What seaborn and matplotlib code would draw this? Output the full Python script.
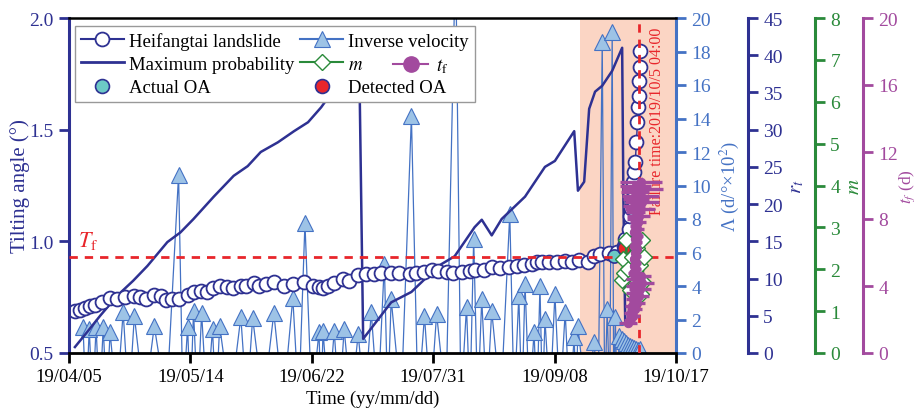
import numpy as np
import pandas as pd
import matplotlib
matplotlib.use("Agg")
import matplotlib.pyplot as plt
import matplotlib.dates as mdates
from matplotlib.lines import Line2D
import seaborn as sns

# =====================================================
# DATA (days after 2019-04-05)
# =====================================================

START = pd.Timestamp("2019-04-05")
END = pd.Timestamp("2019-10-17")
FAILURE = pd.Timestamp("2019-10-05 04:00")
WINDOW_START = pd.Timestamp("2019-09-16 05:00")
TF_THRESHOLD = 0.93

tick_dates = ["2019-04-05", "2019-05-14", "2019-06-22",
              "2019-07-31", "2019-09-08", "2019-10-17"]

# tilting angle (deg)
tilt_days = [1.9, 3.5, 5.2, 6.8, 8.4, 10.6, 13.2, 15.5, 18.1, 21.0,
             22.9, 24.8, 27.4, 29.4, 31.3, 33.2, 35.2, 38.1, 40.0, 42.3,
             44.2, 46.1, 48.4, 50.6, 52.6, 55.2, 56.8, 59.4, 61.0, 63.2,
             65.8, 69.0, 71.9, 75.5, 78.4, 80.3, 81.6, 83.2, 85.2, 88.1,
             90.0, 92.9, 95.5, 98.1, 100.3, 103.5, 106.1, 109.4, 111.6, 113.9,
             116.5, 118.7, 121.3, 123.5, 126.1, 128.7, 130.3, 133.2, 135.8, 138.4,
             141.3, 143.9, 146.1, 148.7, 150.3, 151.9, 154.2, 156.8, 159.4, 161.6,
             163.9, 166.8, 168.7, 170.6, 173.5, 176.1, 178.4, 178.7, 180.0, 180.3,
             180.7, 181.0, 181.3, 181.6, 181.9, 182.3, 182.6, 182.9, 183.0, 183.2,
             183.3, 183.5]
tilt_vals = [0.688, 0.693, 0.702, 0.710, 0.715, 0.728, 0.746, 0.742, 0.751, 0.755,
             0.751, 0.742, 0.760, 0.755, 0.737, 0.740, 0.742, 0.760, 0.773, 0.778,
             0.773, 0.791, 0.800, 0.796, 0.791, 0.800, 0.800, 0.813, 0.800, 0.809,
             0.818, 0.800, 0.809, 0.818, 0.800, 0.796, 0.791, 0.800, 0.813, 0.831,
             0.822, 0.849, 0.854, 0.854, 0.858, 0.858, 0.858, 0.854, 0.858, 0.863,
             0.872, 0.867, 0.863, 0.858, 0.863, 0.867, 0.872, 0.872, 0.885, 0.881,
             0.885, 0.890, 0.894, 0.899, 0.907, 0.907, 0.907, 0.907, 0.912, 0.907,
             0.916, 0.907, 0.934, 0.943, 0.948, 0.952, 0.979, 1.011, 1.055, 1.113,
             1.150, 1.190, 1.266, 1.311, 1.355, 1.445, 1.534, 1.602, 1.651, 1.718,
             1.781, 1.852]

# inverse velocity (d/deg x 10^2); negative values fall below the axis
inv_days = [4.5, 5.5, 6.5, 7.6, 8.7, 9.8, 11.0, 12.1, 13.2, 15.3,
            17.4, 19.2, 21.0, 24.2, 27.4, 31.3, 35.2, 36.6, 38.1, 39.0,
            40.0, 41.3, 42.6, 44.3, 46.1, 47.2, 48.4, 51.8, 55.2, 57.1,
            59.0, 62.4, 65.8, 68.8, 71.9, 73.8, 75.8, 78.0, 80.3, 81.0,
            81.6, 83.4, 85.2, 86.8, 88.4, 90.6, 92.9, 95.0, 97.1, 99.2,
            101.3, 102.4, 103.5, 106.7, 110.0, 112.1, 114.2, 116.1, 118.1, 121.1,
            124.2, 125.9, 127.7, 128.8, 130.0, 131.3, 132.6, 134.2, 135.8, 138.7,
            141.6, 143.0, 144.5, 145.5, 146.5, 147.9, 149.4, 150.3, 151.3, 152.1,
            152.9, 154.5, 156.1, 157.7, 159.4, 160.8, 162.3, 162.9, 163.5, 166.1,
            168.7, 170.0, 171.3, 172.1, 172.9, 173.7, 174.5, 175.0, 175.5, 176.1,
            176.8, 177.7, 178.4, 179.0, 179.7, 180.3, 181.0, 181.6, 182.3, 182.9,
            183.5]
inv_vals = [1.55, -3, 1.43, -3, 1.55, -3, 1.55, -3, 1.25, -3,
            2.45, -3, 2.21, -3, 1.61, -3, 10.63, -3, 1.55, -3,
            2.51, -3, 2.39, -3, 1.43, -3, 1.61, -3, 2.15, -3,
            2.09, -3, 2.39, -3, 3.28, -3, 7.76, -3, 1.25, -3,
            1.31, -3, 1.31, -3, 1.43, -3, 1.13, -3, 2.45, -3,
            5.31, -3, 3.22, -3, 14.15, -3, 2.21, -3, 2.33, -3,
            24.0, -3, 2.75, -3, 6.81, -3, 3.22, -3, 2.51, -3,
            8.30, -3, 3.40, -3, 4.12, -3, 1.25, -3, 4.00, -3,
            2.03, -3, 3.52, -3, 2.45, -3, 0.96, -3, 1.61, -3,
            0.66, -3, 18.57, -3, 2.63, -3, 19.16, -3, 2.15, -3,
            1.01, 0.84, 0.72, 0.60, 0.48, 0.42, 0.36, 0.30, 0.24, 0.18,
            0.24]

# maximum probability r_t
rt_days = [1.9, 5.8, 10.0, 15.5, 20.6, 25.2, 31.6, 35.8, 40.0, 46.5,
           52.9, 57.4, 61.6, 67.1, 72.3, 76.8, 81.0, 87.0, 93.2, 94.5,
           103.5, 110.0, 118.7, 123.9, 130.3, 132.6, 135.8, 139.0, 146.5, 152.9,
           156.1, 162.3, 163.5, 165.5, 167.1, 169.0, 171.3, 174.5, 177.7, 178.1,
           178.7]
rt_vals = [0.8, 2.8, 5.0, 7.7, 9.7, 11.7, 14.9, 16.2, 18.0, 21.0,
           23.8, 25.1, 27.0, 28.3, 29.8, 31.0, 33.0, 36.5, 40.5, 1.9,
           6.8, 8.2, 11.7, 13.0, 16.9, 17.9, 15.8, 18.0, 21.0, 25.0,
           25.8, 29.8, 21.8, 23.0, 32.8, 35.1, 35.9, 37.9, 41.0, 20.7,
           3.9]

# m
m_days = [177.6, 178.0, 178.4, 179.0, 179.6, 180.3, 181.0, 181.7, 182.4, 183.0,
          183.5, 183.9, 184.2, 184.5, 184.7]
m_vals = [1.75, 2.25, 1.90, 2.70, 2.00, 1.50, 2.30, 1.80, 2.50, 1.60,
          2.10, 1.40, 2.70, 1.70, 2.30]

# t_f (d) with horizontal spread (half width, days)
tf_vals = [10.2, 10.0, 9.8, 9.6, 9.4, 9.2, 9.0, 8.8, 8.6, 8.4,
           8.2, 8.0, 7.8, 7.6, 7.4, 7.2, 7.0, 6.8, 6.6, 6.4,
           6.2, 6.0, 5.8, 5.6, 5.4, 5.2, 5.0, 4.8, 4.6, 4.4,
           4.2, 4.0, 3.8, 3.6, 3.4, 3.2, 3.0, 2.8, 2.6, 2.4,
           2.2, 2.0, 1.8]
tf_days = [183.8, 182.0, 184.3, 181.8, 183.6, 182.2, 184.0, 181.6, 183.4, 182.0,
           183.0, 181.7, 182.8, 181.9, 182.6, 181.6, 182.7, 181.8, 182.5, 181.5,
           182.4, 181.7, 182.3, 181.4, 182.2, 181.6, 182.1, 181.3, 183.6, 182.0,
           184.0, 181.8, 183.5, 181.6, 183.2, 181.2, 182.4, 180.8, 181.8, 180.4,
           181.2, 180.1, 179.6]
tf_halfwidth = [6.8, 5.0, 6.5, 4.6, 5.8, 4.2, 5.5, 3.5, 4.8, 3.0,
                3.6, 2.4, 2.6, 1.8, 2.0, 1.5, 1.6, 1.4, 1.5, 1.3,
                1.4, 1.3, 1.4, 1.3, 1.4, 1.3, 1.5, 1.6, 3.4, 3.2,
                4.0, 3.0, 3.6, 2.8, 3.2, 2.4, 2.6, 2.2, 2.4, 2.0,
                2.2, 1.8, 3.0]

# onset of acceleration
actual_oa_day, actual_oa_val = [175.2], [0.934]
detected_oa_day, detected_oa_val = [178.4], [0.970]

# =====================================================
# STYLE
# =====================================================

NAVY = "#2e3192"
BLUE = "#4472c4"
LIGHT_BLUE = "#9dc3e6"
GREEN = "#2a8a3a"
PURPLE = "#a24a9e"
RED = "#e8262b"
SHADE = "#fbd5c4"

plt.rcParams["font.family"] = ["Liberation Serif", "DejaVu Serif"]
plt.rcParams["mathtext.fontset"] = "stix"
plt.rcParams["font.size"] = 13.5


def to_dates(days):
    return START + pd.to_timedelta(np.asarray(days, dtype=float), unit="D")


# =====================================================
# AXES
# =====================================================

fig = plt.figure(figsize=(9.18, 4.14), dpi=100)
ax = fig.add_axes([69 / 918, 1 - 354 / 414, 607 / 918, 335 / 414])

ax_l = ax.twinx()
ax_r = ax.twinx()
ax_m = ax.twinx()
ax_t = ax.twinx()

ax_l.set_zorder(1)
ax_r.set_zorder(2)
ax.set_zorder(3)
ax_m.set_zorder(4)
ax_t.set_zorder(5)
ax.patch.set_visible(False)

# =====================================================
# SHADED WINDOW + INVERSE VELOCITY
# =====================================================

ax_l.axvspan(WINDOW_START, END, color=SHADE, lw=0, zorder=0)

sns.lineplot(x=to_dates(inv_days), y=inv_vals, ax=ax_l, color=BLUE, lw=0.9,
             marker="^", markersize=12, mfc=LIGHT_BLUE, mec=BLUE, mew=0.8,
             estimator=None, sort=False, legend=False)

# =====================================================
# MAXIMUM PROBABILITY
# =====================================================

sns.lineplot(x=to_dates(rt_days), y=rt_vals, ax=ax_r, color=NAVY, lw=1.8,
             estimator=None, sort=False, legend=False)

# =====================================================
# TILTING ANGLE
# =====================================================

sns.lineplot(x=to_dates(tilt_days), y=tilt_vals, ax=ax, color=NAVY, lw=1.0,
             marker="o", markersize=10, mfc="white", mec=NAVY, mew=1.3,
             estimator=None, sort=False, legend=False)

sns.scatterplot(x=to_dates(actual_oa_day), y=actual_oa_val, ax=ax, s=90,
                color="#6cc9c6", edgecolor=NAVY, linewidth=1.2, zorder=4)
sns.scatterplot(x=to_dates(detected_oa_day), y=detected_oa_val, ax=ax, s=90,
                color=RED, edgecolor=NAVY, linewidth=1.2, zorder=4)

ax.axhline(TF_THRESHOLD, color=RED, lw=2, dashes=(3, 2.5), zorder=5)
ax.axvline(FAILURE, color=RED, lw=2, dashes=(3, 2.5), zorder=5)

ax.text(START + pd.Timedelta(days=6.1), 1.006, r"$T_{\mathrm{f}}$",
        color=RED, fontsize=16, ha="center", va="center")
ax.text(FAILURE + pd.Timedelta(days=5.8), 0.973, "Failure time:2019/10/5 04:00",
        transform=ax.get_xaxis_transform(), rotation=90, color=RED,
        fontsize=11.5, ha="center", va="top")

# =====================================================
# m AND t_f
# =====================================================

sns.lineplot(x=to_dates(m_days), y=m_vals, ax=ax_m, color=GREEN, lw=1.0,
             marker="D", markersize=8, mfc="white", mec=GREEN, mew=1.0,
             estimator=None, sort=False, legend=False)

ax_t.hlines(tf_vals,
            to_dates(np.array(tf_days) - np.array(tf_halfwidth)),
            to_dates(np.array(tf_days) + np.array(tf_halfwidth)),
            colors=PURPLE, lw=2.4)
sns.lineplot(x=to_dates(tf_days), y=tf_vals, ax=ax_t, color=PURPLE, lw=5,
             marker="o", markersize=6, mfc=PURPLE, mec=PURPLE,
             estimator=None, sort=False, legend=False)

# =====================================================
# LIMITS, TICKS, SPINES
# =====================================================

ax.set_xlim(START, END)
ax.set_xticks(pd.to_datetime(tick_dates))
ax.xaxis.set_major_formatter(mdates.DateFormatter("%y/%m/%d"))

ax.set_ylim(0.5, 2.0)
ax.set_yticks([0.5, 1.0, 1.5, 2.0])
ax.yaxis.set_major_formatter(plt.FormatStrFormatter("%.1f"))
ax_l.set_ylim(0, 20)
ax_l.set_yticks(range(0, 21, 2))
ax_r.set_ylim(0, 45)
ax_r.set_yticks(range(0, 46, 5))
ax_m.set_ylim(0, 8)
ax_m.set_yticks(range(0, 9, 1))
ax_t.set_ylim(0, 20)
ax_t.set_yticks(range(0, 21, 4))

ax.tick_params(axis="x", colors="black", direction="out", length=7,
               width=2, labelsize=13.5, pad=4)
ax.tick_params(axis="y", colors=NAVY, direction="out", length=7,
               width=2, labelsize=14, pad=4)

ax.spines["left"].set_color(NAVY)
ax.spines["left"].set_linewidth(2.2)
ax.spines["bottom"].set_linewidth(2)
ax.spines["top"].set_linewidth(1.8)
ax.spines["right"].set_visible(False)

for twin, color, pos in [(ax_l, BLUE, 1.0), (ax_r, NAVY, 1.1186),
                         (ax_m, GREEN, 1.229), (ax_t, PURPLE, 1.308)]:
    for side in ["left", "top", "bottom"]:
        twin.spines[side].set_visible(False)
    twin.spines["right"].set_position(("axes", pos))
    twin.spines["right"].set_color(color)
    twin.spines["right"].set_linewidth(2.2)
    twin.tick_params(axis="y", colors=color, direction="out", length=7,
                     width=2, labelsize=14, pad=4)
    twin.set_xlabel("")

# =====================================================
# LABELS
# =====================================================

ax.set_xlabel("Time (yy/mm/dd)", fontsize=13.5, labelpad=3)
ax.set_ylabel("Tilting angle (°)", color=NAVY, fontsize=15)
ax.yaxis.set_label_coords(-0.064, 0.5)

ax_l.set_ylabel(r"Λ (d/°×10$^2$)", color=BLUE, fontsize=13.5)
ax_l.yaxis.set_label_coords(1.069, 0.5)
ax_r.set_ylabel(r"$r_t$", color=NAVY, fontsize=15)
ax_r.yaxis.set_label_coords(1.183, 0.5)
ax_m.set_ylabel(r"$m$", color=GREEN, fontsize=15)
ax_m.yaxis.set_label_coords(1.279, 0.5)
ax_t.set_ylabel(r"$t_f$ (d)", color=PURPLE, fontsize=12.5)
ax_t.yaxis.set_label_coords(1.365, 0.5)

# =====================================================
# LEGEND
# =====================================================

h_tilt = Line2D([], [], color=NAVY, lw=1.5, marker="o", ms=10,
                mfc="white", mec=NAVY, mew=1.3)
h_inv = Line2D([], [], color=BLUE, lw=1.5, marker="^", ms=12,
               mfc=LIGHT_BLUE, mec=BLUE, mew=0.8)
h_rt = Line2D([], [], color=NAVY, lw=2)
h_m = Line2D([], [], color=GREEN, lw=1.5, marker="D", ms=8,
             mfc="white", mec=GREEN, mew=1.0)
h_tf = Line2D([], [], color=PURPLE, lw=1.5, marker="o", ms=11,
              mfc=PURPLE, mec=PURPLE)
h_aoa = Line2D([], [], ls="none", marker="o", ms=10, mfc="#6cc9c6",
               mec=NAVY, mew=1.2)
h_doa = Line2D([], [], ls="none", marker="o", ms=10, mfc=RED,
               mec=NAVY, mew=1.2)

leg1 = ax_t.legend(
    [h_tilt, h_rt, h_aoa, h_inv, h_m, h_doa],
    ["Heifangtai landslide", "Maximum probability", "Actual OA",
     "Inverse velocity", r"$m$", "Detected OA"],
    ncol=2, loc="upper left", bbox_to_anchor=(0.0099, 0.976),
    borderaxespad=0, fontsize=13.5, handlelength=2.3, handletextpad=0.27,
    columnspacing=0.32, labelspacing=0.33, borderpad=0.3,
    fancybox=False, framealpha=1, edgecolor="#999999"
)
leg1.get_frame().set_linewidth(1.0)
ax_t.add_artist(leg1)

ax_t.legend(
    [h_tf], [r"$t_{\mathrm{f}}$"], loc="center left",
    bbox_to_anchor=(0.534, 0.857), borderaxespad=0, borderpad=0,
    frameon=False, fontsize=13.5, handlelength=1.86, handletextpad=0.4
)

plt.savefig("out.png", dpi=100)
plt.close()
